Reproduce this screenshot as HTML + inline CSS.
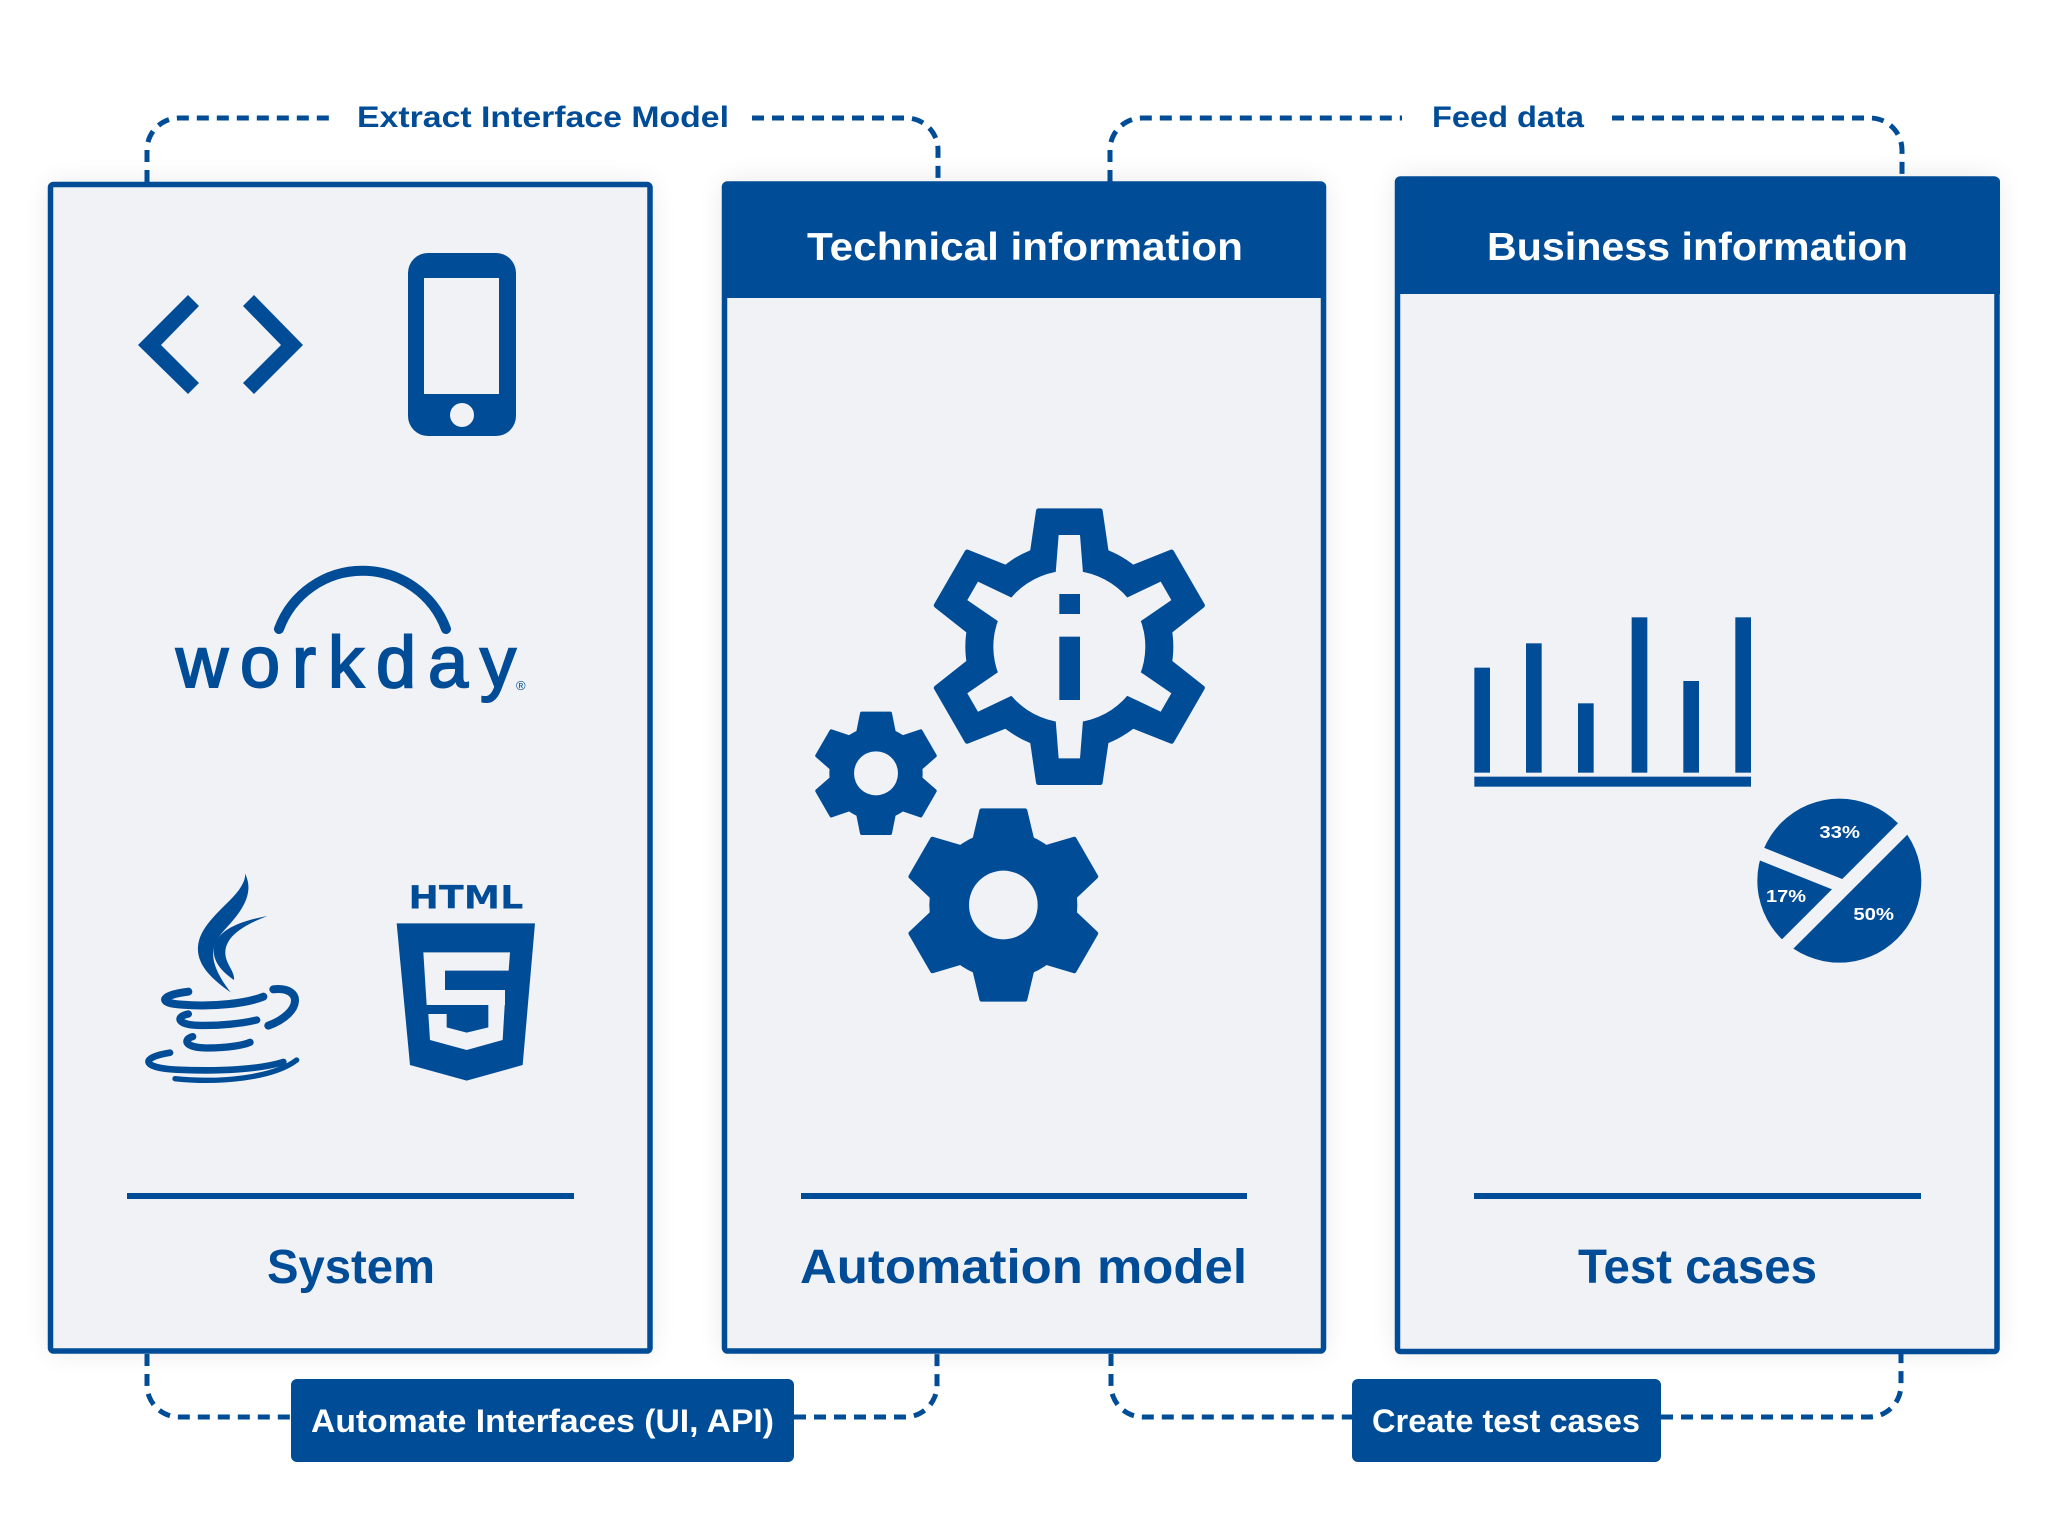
<!DOCTYPE html>
<html><head><meta charset="utf-8"><style>
html,body{margin:0;padding:0;background:#fff;}
svg{display:block;}
text{font-family:"Liberation Sans",Arial,sans-serif;font-weight:bold;}
</style></head><body>
<svg width="2048" height="1534" viewBox="0 0 2048 1534" xmlns="http://www.w3.org/2000/svg">
<defs>
<filter id="sh" x="-10%" y="-10%" width="120%" height="120%">
<feGaussianBlur in="SourceAlpha" stdDeviation="14"/>
<feComponentTransfer><feFuncA type="linear" slope="0.10"/></feComponentTransfer>
</filter>
</defs>
<rect width="2048" height="1534" fill="#fff"/>

<!-- shadows -->
<rect x="50" y="184" width="600" height="1167" fill="#000" filter="url(#sh)"/>
<rect x="724" y="182" width="600" height="1169" fill="#000" filter="url(#sh)"/>
<rect x="1397" y="177" width="600" height="1174" fill="#000" filter="url(#sh)"/>

<!-- Box 1 -->
<rect x="50.5" y="184.5" width="599.5" height="1166.5" rx="3" fill="#f0f2f6" stroke="#004c97" stroke-width="5.5"/>
<!-- Box 2 -->
<rect x="724.5" y="184" width="599" height="1167" rx="3" fill="#f0f2f6" stroke="#004c97" stroke-width="5.5"/>
<path d="M722,298 V187 Q722,182 727,182 H1321 Q1326,182 1326,187 V298 Z" fill="#004c97"/>
<!-- Box 3 -->
<rect x="1397.5" y="179" width="599.5" height="1172.5" rx="3" fill="#f0f2f6" stroke="#004c97" stroke-width="5.5"/>
<path d="M1395,294 V182 Q1395,177 1400,177 H1995 Q2000,177 2000,182 V294 Z" fill="#004c97"/>

<!-- header texts -->
<text x="807" y="260" font-size="39" fill="#fff" textLength="436" lengthAdjust="spacingAndGlyphs">Technical information</text>
<text x="1487" y="260" font-size="39" fill="#fff" textLength="421" lengthAdjust="spacingAndGlyphs">Business information</text>

<!-- separators -->
<rect x="127" y="1193" width="447" height="6" fill="#004c97"/>
<rect x="801" y="1193" width="446" height="6" fill="#004c97"/>
<rect x="1474" y="1193" width="447" height="6" fill="#004c97"/>

<!-- bottom titles -->
<text x="267" y="1283" font-size="48" fill="#004c97" textLength="168" lengthAdjust="spacingAndGlyphs">System</text>
<text x="800" y="1283" font-size="48" fill="#004c97" textLength="447" lengthAdjust="spacingAndGlyphs">Automation model</text>
<text x="1578" y="1283" font-size="48" fill="#004c97" textLength="239" lengthAdjust="spacingAndGlyphs">Test cases</text>

<!-- dashed connectors -->
<g fill="none" stroke="#004c97" stroke-width="5" stroke-dasharray="12 8">
<path d="M147,182 L147,150 A32,32 0 0 1 179,118 L335,118"/>
<path d="M752,118 L906,118 A32,32 0 0 1 938,150 L938,182"/>
<path d="M1110,182 L1110,150 A32,32 0 0 1 1142,118 L1402,118"/>
<path d="M1612,118 L1870,118 A32,32 0 0 1 1902,150 L1902,177"/>
<path d="M147,1354 L147,1385 A32,32 0 0 0 179,1417 L291,1417"/>
<path d="M794,1417 L905,1417 A32,32 0 0 0 937,1385 L937,1354"/>
<path d="M1111,1354 L1111,1385 A32,32 0 0 0 1143,1417 L1352,1417"/>
<path d="M1661,1417 L1869,1417 A32,32 0 0 0 1901,1385 L1901,1354"/>
</g>

<!-- top labels -->
<text x="357" y="127" font-size="30" fill="#004c97" textLength="372" lengthAdjust="spacingAndGlyphs">Extract Interface Model</text>
<text x="1432" y="127" font-size="30" fill="#004c97" textLength="152" lengthAdjust="spacingAndGlyphs">Feed data</text>

<!-- bottom labels -->
<rect x="291" y="1379" width="503" height="83" rx="6" fill="#004c97"/>
<text x="311" y="1432" font-size="32" fill="#fff" textLength="463" lengthAdjust="spacingAndGlyphs">Automate Interfaces (UI, API)</text>
<rect x="1352" y="1379" width="309" height="83" rx="6" fill="#004c97"/>
<text x="1372" y="1432" font-size="32" fill="#fff" textLength="268" lengthAdjust="spacingAndGlyphs">Create test cases</text>

<!-- code brackets -->
<polygon points="138,345 188,295 199,306 161,345 199,383 188,394" fill="#004c97"/>
<polygon points="303,345 254,295 243,306 281,345 243,383 254,394" fill="#004c97"/>

<!-- phone -->
<rect x="408" y="253" width="108" height="183" rx="20" fill="#004c97"/>
<rect x="424" y="278" width="75" height="116" fill="#f0f2f6"/>
<circle cx="462" cy="415" r="12" fill="#f0f2f6"/>

<!-- workday -->
<path d="M279,629 A89,89 0 0 1 446,629" fill="none" stroke="#004c97" stroke-width="10" stroke-linecap="round"/>
<text x="176" y="687" font-size="72" fill="#004c97" stroke="#004c97" stroke-width="2" style="font-weight:normal" textLength="340" lengthAdjust="spacing">workday</text>
<text x="516" y="690" font-size="13" fill="#004c97" style="font-weight:normal">®</text>

<!-- java & html5 -->
<g transform="translate(120,860) scale(0.33333)">
  <path d="M375,40 C405,100 365,155 315,208 C268,258 262,305 332,397 C268,352 215,302 240,232 C262,175 330,128 358,88 C370,70 377,55 375,40 Z" fill="#004c97"/>
  <path d="M442,168 C380,192 318,224 316,276 C315,312 345,332 342,360 C304,334 276,302 282,262 C292,208 366,182 442,168 Z" fill="#004c97"/>
  <g fill="none" stroke="#004c97" stroke-linecap="round">
    <path d="M205,395 C120,405 112,430 185,434 C280,442 380,430 430,410" stroke-width="24"/>
    <path d="M460,388 C548,378 550,458 445,497" stroke-width="24"/>
    <path d="M205,462 C165,470 172,494 232,496 C300,498 370,490 410,480" stroke-width="22"/>
    <path d="M218,530 C185,540 198,564 262,564 C322,564 370,556 390,547" stroke-width="22"/>
    <path d="M150,578 C60,592 62,624 170,629 C300,635 420,628 490,606" stroke-width="20"/>
    <path d="M165,656 C300,670 460,654 530,600" stroke-width="16"/>
  </g>
  <text x="865" y="145" font-size="96" fill="#004c97" style="font-family:'DejaVu Sans',sans-serif;font-weight:900" textLength="345" lengthAdjust="spacingAndGlyphs">HTML</text>
  <polygon points="830,190 1245,190 1208,615 1040,662 870,615" fill="#004c97"/>
  <g fill="#f0f2f6">
    <polygon points="910,277 1170,277 1166,332 975,332 975,390 1155,390 1155,435 920,435"/>
    <polygon points="925,462 980,462 980,502 1040,518 1105,502 1105,420 1155,420 1148,540 1040,570 930,540"/>
  </g>
</g>

<!-- gears -->
<g transform="translate(800,490) scale(0.33333)" fill="#004c97">
  <circle cx="808" cy="470" r="312"/>
  <g stroke="#004c97" stroke-width="16" stroke-linejoin="round">
    <polygon points="716,63 900,63 920,200 696,200"/>
    <polygon points="716,63 900,63 920,200 696,200" transform="rotate(60 808 470)"/>
    <polygon points="716,63 900,63 920,200 696,200" transform="rotate(120 808 470)"/>
    <polygon points="716,63 900,63 920,200 696,200" transform="rotate(180 808 470)"/>
    <polygon points="716,63 900,63 920,200 696,200" transform="rotate(240 808 470)"/>
    <polygon points="716,63 900,63 920,200 696,200" transform="rotate(300 808 470)"/>
  </g>
  <g fill="#f0f2f6">
    <circle cx="808" cy="470" r="228"/>
    <polygon points="776,135 840,135 850,262 766,262"/>
    <polygon points="776,135 840,135 850,262 766,262" transform="rotate(60 808 470)"/>
    <polygon points="776,135 840,135 850,262 766,262" transform="rotate(120 808 470)"/>
    <polygon points="776,135 840,135 850,262 766,262" transform="rotate(180 808 470)"/>
    <polygon points="776,135 840,135 850,262 766,262" transform="rotate(240 808 470)"/>
    <polygon points="776,135 840,135 850,262 766,262" transform="rotate(300 808 470)"/>
  </g>
  <rect x="778" y="312" width="62" height="60"/>
  <rect x="778" y="440" width="62" height="190"/>

  <circle cx="228" cy="850" r="140"/>
  <g stroke="#004c97" stroke-width="10" stroke-linejoin="round">
    <polygon points="185,670 271,670 284,735 172,735"/>
    <polygon points="185,670 271,670 284,735 172,735" transform="rotate(60 228 850)"/>
    <polygon points="185,670 271,670 284,735 172,735" transform="rotate(120 228 850)"/>
    <polygon points="185,670 271,670 284,735 172,735" transform="rotate(180 228 850)"/>
    <polygon points="185,670 271,670 284,735 172,735" transform="rotate(240 228 850)"/>
    <polygon points="185,670 271,670 284,735 172,735" transform="rotate(300 228 850)"/>
  </g>
  <circle cx="228" cy="850" r="66" fill="#f0f2f6"/>

  <circle cx="610" cy="1245" r="222"/>
  <g stroke="#004c97" stroke-width="14" stroke-linejoin="round">
    <polygon points="545,962 675,962 696,1050 524,1050"/>
    <polygon points="545,962 675,962 696,1050 524,1050" transform="rotate(60 610 1245)"/>
    <polygon points="545,962 675,962 696,1050 524,1050" transform="rotate(120 610 1245)"/>
    <polygon points="545,962 675,962 696,1050 524,1050" transform="rotate(180 610 1245)"/>
    <polygon points="545,962 675,962 696,1050 524,1050" transform="rotate(240 610 1245)"/>
    <polygon points="545,962 675,962 696,1050 524,1050" transform="rotate(300 610 1245)"/>
  </g>
  <circle cx="610" cy="1245" r="103" fill="#f0f2f6"/>
</g>

<!-- charts -->
<g transform="translate(1460,600) scale(0.33333)">
  <g fill="#004c97">
    <rect x="43" y="203" width="47" height="315"/>
    <rect x="198" y="130" width="47" height="388"/>
    <rect x="354" y="310" width="47" height="208"/>
    <rect x="515" y="52" width="47" height="466"/>
    <rect x="670" y="243" width="47" height="275"/>
    <rect x="826" y="52" width="47" height="466"/>
    <rect x="43" y="530" width="830" height="30"/>
    <circle cx="1138" cy="842" r="246"/>
  </g>
  <g stroke="#f0f2f6" stroke-linecap="butt">
    <line x1="1370" y1="645" x2="965" y2="1050" stroke-width="44"/>
    <line x1="870" y1="748" x2="1140" y2="856" stroke-width="40"/>
  </g>
  <g fill="#fff" font-size="54">
    <text x="1078" y="714" textLength="122" lengthAdjust="spacingAndGlyphs">33%</text>
    <text x="918" y="906" textLength="120" lengthAdjust="spacingAndGlyphs">17%</text>
    <text x="1180" y="960" textLength="122" lengthAdjust="spacingAndGlyphs">50%</text>
  </g>
</g>
</svg>
</body></html>
